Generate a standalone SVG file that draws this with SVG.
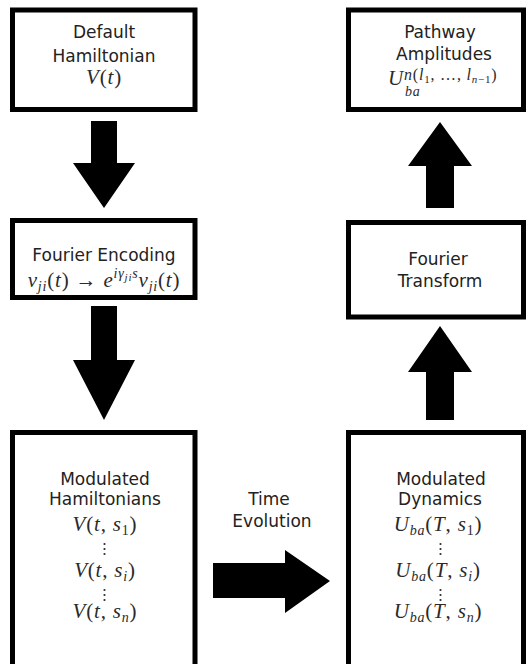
<svg xmlns="http://www.w3.org/2000/svg" width="526" height="664" viewBox="0 0 526 664">
  <style>
    .box { fill: #ffffff; stroke: #000000; stroke-width: 5; }
    .lbl { font-family: "DejaVu Sans", "Liberation Sans", sans-serif; font-size: 17px; fill: #222222; text-anchor: middle; }
    .m { font-family: "Liberation Serif", "DejaVu Serif", serif; font-size: 21px; fill: #2a2a2a; letter-spacing: 0.8px; }
    .mc { text-anchor: middle; }
    .i { font-style: italic; }
    .s { font-size: 14px; }
    .ss { font-size: 11px; }
    .arrow { fill: #000000; }
    .dot { fill: #2a2a2a; }
  </style>
  <rect width="526" height="664" fill="#ffffff"/>

  <!-- connectors: block arrows between the stages -->
  <g id="connectors">
    <path class="arrow" d="M91,121 H117 V163 H135 L104,208 L73,163 H91 Z"/>
    <path class="arrow" d="M91,306 H117 V360 H135 L104,420 L73,360 H91 Z"/>
    <path class="arrow" d="M440,122 L472,166 H454 V208 H426 V166 H408 Z"/>
    <path class="arrow" d="M440,326 L472,372 H454 V420 H426 V372 H408 Z"/>
    <path class="arrow" d="M213,563 H285 V550 L330,581 L285,613 V598 H213 Z"/>
    <text class="lbl" x="269" y="505">Time</text>
    <text class="lbl" x="272" y="527">Evolution</text>
  </g>

  <g id="default-hamiltonian">
    <rect class="box" x="12.5" y="10" width="182.5" height="99.5"/>
    <text class="lbl" x="104" y="38">Default</text>
    <text class="lbl" x="104" y="62">Hamiltonian</text>
    <text class="m mc" x="104" y="84"><tspan class="i">V</tspan>(<tspan class="i">t</tspan>)</text>
  </g>

  <g id="fourier-encoding">
    <rect class="box" x="12.5" y="220.5" width="182.5" height="77"/>
    <text class="lbl" x="104" y="261">Fourier Encoding</text>
    <text class="m mc" x="104" y="287"><tspan class="i">v</tspan><tspan class="s i" dy="4">ji</tspan><tspan dy="-4">(</tspan><tspan class="i">t</tspan>) → <tspan class="i">e</tspan><tspan class="s i" dy="-9">iγ</tspan><tspan class="ss i" dy="3">ji</tspan><tspan class="s i" dy="-3">s</tspan><tspan class="i" dy="9">v</tspan><tspan class="s i" dy="4">ji</tspan><tspan dy="-4">(</tspan><tspan class="i">t</tspan>)</text>
  </g>

  <g id="modulated-hamiltonians">
    <rect class="box" x="12.5" y="432.5" width="182.5" height="260"/>
    <text class="lbl" x="105" y="485">Modulated</text>
    <text class="lbl" x="105" y="505">Hamiltonians</text>
    <text class="m mc" x="105" y="531"><tspan class="i">V</tspan>(<tspan class="i">t</tspan>, <tspan class="i">s</tspan><tspan class="s" dy="4">1</tspan><tspan dy="-4">)</tspan></text>
    <circle class="dot" cx="104.5" cy="544" r="1.1"/>
    <circle class="dot" cx="104.5" cy="549" r="1.1"/>
    <circle class="dot" cx="104.5" cy="554" r="1.1"/>
    <text class="m mc" x="105" y="577"><tspan class="i">V</tspan>(<tspan class="i">t</tspan>, <tspan class="i">s</tspan><tspan class="s i" dy="4">i</tspan><tspan dy="-4">)</tspan></text>
    <circle class="dot" cx="104.5" cy="590" r="1.1"/>
    <circle class="dot" cx="104.5" cy="595" r="1.1"/>
    <circle class="dot" cx="104.5" cy="600" r="1.1"/>
    <text class="m mc" x="105" y="618"><tspan class="i">V</tspan>(<tspan class="i">t</tspan>, <tspan class="i">s</tspan><tspan class="s i" dy="4">n</tspan><tspan dy="-4">)</tspan></text>
  </g>

  <g id="modulated-dynamics">
    <rect class="box" x="348.5" y="432.5" width="175" height="260"/>
    <text class="lbl" x="441" y="485">Modulated</text>
    <text class="lbl" x="440" y="505">Dynamics</text>
    <text class="m mc" x="438" y="531"><tspan class="i">U</tspan><tspan class="s i" dy="4">ba</tspan><tspan dy="-4">(</tspan><tspan class="i">T</tspan>, <tspan class="i">s</tspan><tspan class="s" dy="4">1</tspan><tspan dy="-4">)</tspan></text>
    <circle class="dot" cx="440.5" cy="544" r="1.1"/>
    <circle class="dot" cx="440.5" cy="549" r="1.1"/>
    <circle class="dot" cx="440.5" cy="554" r="1.1"/>
    <text class="m mc" x="438" y="577"><tspan class="i">U</tspan><tspan class="s i" dy="4">ba</tspan><tspan dy="-4">(</tspan><tspan class="i">T</tspan>, <tspan class="i">s</tspan><tspan class="s i" dy="4">i</tspan><tspan dy="-4">)</tspan></text>
    <circle class="dot" cx="440.5" cy="590" r="1.1"/>
    <circle class="dot" cx="440.5" cy="595" r="1.1"/>
    <circle class="dot" cx="440.5" cy="600" r="1.1"/>
    <text class="m mc" x="438" y="618"><tspan class="i">U</tspan><tspan class="s i" dy="4">ba</tspan><tspan dy="-4">(</tspan><tspan class="i">T</tspan>, <tspan class="i">s</tspan><tspan class="s i" dy="4">n</tspan><tspan dy="-4">)</tspan></text>
  </g>

  <g id="fourier-transform">
    <rect class="box" x="348.5" y="222.5" width="175" height="94.5"/>
    <text class="lbl" x="438" y="265">Fourier</text>
    <text class="lbl" x="440" y="287">Transform</text>
  </g>

  <g id="pathway-amplitudes">
    <rect class="box" x="348.5" y="10" width="175" height="99.5"/>
    <text class="lbl" x="440" y="38">Pathway</text>
    <text class="lbl" x="444" y="60">Amplitudes</text>
    <text class="m" x="388" y="85"><tspan class="i">U</tspan><tspan style="font-size:16px" dy="-5"><tspan class="i">n</tspan>(<tspan class="i">l</tspan><tspan class="ss" dy="3">1</tspan><tspan dy="-3">, …, </tspan><tspan class="i">l</tspan><tspan class="ss i" dy="3">n</tspan><tspan class="ss">−1</tspan><tspan dy="-3">)</tspan></tspan></text>
    <text class="m s i" x="405" y="96">ba</text>
  </g>
</svg>
